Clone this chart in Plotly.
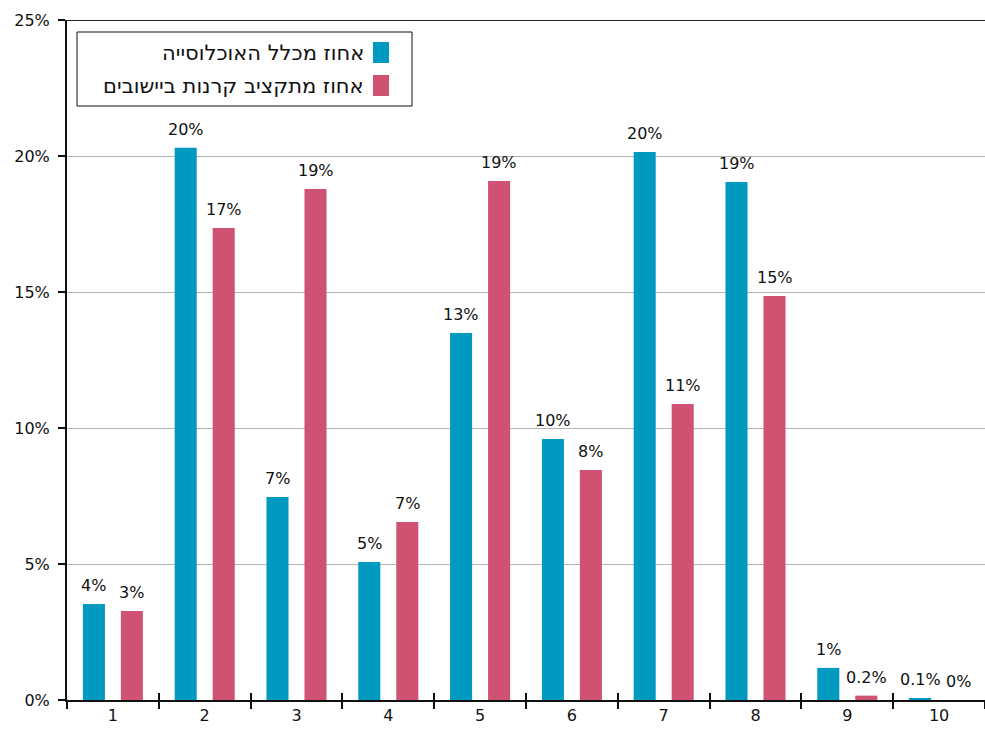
import plotly.graph_objects as go

# Deciles 1..10 and the two shares (in percent)
categories = ["1", "2", "3", "4", "5", "6", "7", "8", "9", "10"]
population_share = [3.53, 20.3, 7.46, 5.07, 13.49, 9.6, 20.15, 19.04, 1.18, 0.06]
budget_share = [3.27, 17.35, 18.79, 6.54, 19.08, 8.46, 10.88, 14.85, 0.16, 0.0]

series_names = ["אחוז מכלל האוכלוסייה", "אחוז מתקציב קרנות ביישובים"]
y_ticks = [0, 5, 10, 15, 20, 25]
y_tick_labels = [f"{t}%" for t in y_ticks]

BLUE = "#0099C0"
PINK = "#D05272"
FONT = "DejaVu Sans"


def fmt(v):
    # whole percent for regular values, one decimal below 1%
    if v == 0 or v >= 1:
        return f"{round(v):.0f}%"
    return f"{v:.1f}%"


fig = go.Figure()
series = [(series_names[0], population_share, BLUE, -19),
          (series_names[1], budget_share, PINK, 19)]
for name, vals, color, _ in series:
    fig.add_trace(go.Bar(
        x=categories, y=vals, name=name,
        marker=dict(color=color, line=dict(width=0)),
        showlegend=False,
    ))

# value labels above each bar, shifted to the bar's slot within the group
for name, vals, color, dx in series:
    for i, v in enumerate(vals):
        fig.add_annotation(x=i, y=v, text=fmt(v), showarrow=False,
                           xanchor="center", yanchor="bottom",
                           xshift=dx, yshift=7,
                           font=dict(family=FONT, size=16, color="#111"))

# invisible helper so the overlay axis carrying the inner tick marks is drawn
fig.add_trace(go.Scatter(x=[0], y=[0], xaxis="x2", yaxis="y", mode="markers",
                         marker=dict(opacity=0), hoverinfo="skip", showlegend=False))

fig.update_layout(
    width=985, height=731,
    margin=dict(l=67, r=0, t=20, b=31),
    paper_bgcolor="white", plot_bgcolor="white",
    barmode="group", bargap=0.172, bargroupgap=0.42,
    font=dict(family=FONT, size=16, color="#111"),
    xaxis=dict(
        type="category", range=[-0.5, len(categories) - 0.5],
        showline=True, linecolor="#111", linewidth=2,
        ticks="outside", tickson="boundaries", ticklen=7, tickwidth=1.5, tickcolor="#111",
        showgrid=False, zeroline=False,
        tickfont=dict(family=FONT, size=16, color="#111"),
    ),
    xaxis2=dict(
        overlaying="x", anchor="y", range=[-0.5, len(categories) - 0.5],
        tickvals=[i + 0.5 for i in range(len(categories) - 1)],
        ticks="inside", ticklen=7, tickwidth=1.5, tickcolor="#111",
        showticklabels=False, showgrid=False, zeroline=False, showline=False,
    ),
    yaxis=dict(
        range=[0, 25], tickvals=y_ticks, ticktext=y_tick_labels,
        showline=True, linecolor="#111", linewidth=2,
        ticks="outside", ticklen=7, tickwidth=1.5, tickcolor="#111",
        ticklabelstandoff=5,
        showgrid=True, gridcolor="#B4B4B4", gridwidth=1,
        zeroline=False,
        tickfont=dict(family=FONT, size=16, color="#111"),
    ),
)

# dark rule along the top of the plot area
fig.add_shape(type="line", xref="paper", yref="y", x0=0, x1=1, y0=25, y1=25,
              line=dict(color="#222", width=2))

# legend box drawn right-to-left: swatch on the right, text to its left
PW, PH = 918.0, 680.0


def px_x(p):
    return (p - 67) / PW


def px_y(p):
    return (700 - p) / PH


fig.add_shape(type="rect", xref="paper", yref="paper",
              x0=px_x(77), x1=px_x(412), y0=px_y(106), y1=px_y(32),
              line=dict(color="#111", width=1), fillcolor="white")
for i, (name, color) in enumerate(zip(series_names, [BLUE, PINK])):
    top = 42 + i * 33
    fig.add_shape(type="rect", xref="paper", yref="paper",
                  x0=px_x(373), x1=px_x(389), y0=px_y(top + 21), y1=px_y(top),
                  line=dict(width=0), fillcolor=color)
    fig.add_annotation(xref="paper", yref="paper", x=px_x(366), y=px_y(top + 10.5),
                       xanchor="right", yanchor="middle", showarrow=False,
                       text=name, font=dict(family=FONT, size=21, color="#111"))

fig.write_html("out.html")
